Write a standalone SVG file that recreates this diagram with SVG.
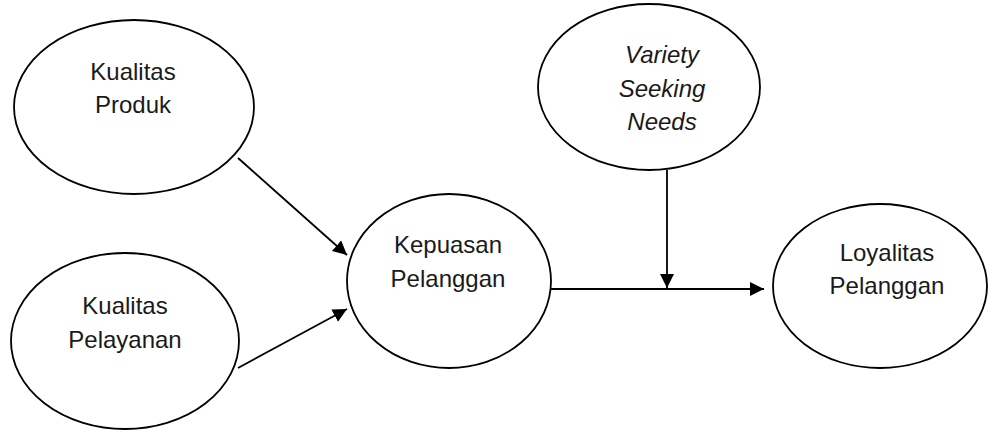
<svg xmlns="http://www.w3.org/2000/svg" width="989" height="430" viewBox="0 0 989 430">
<style>
  .node ellipse { fill: #ffffff; stroke: #000000; stroke-width: 1.8; }
  .node text { font-family: "Liberation Sans", Arial, sans-serif; font-size: 24px; fill: #1a1a1a; text-anchor: middle; }
  .node text.it { font-style: italic; }
  .conn line { stroke: #000000; stroke-width: 1.8; marker-end: url(#arrow); }
</style>
<defs>
  <marker id="arrow" markerUnits="userSpaceOnUse" markerWidth="16" markerHeight="16" refX="14" refY="7" orient="auto">
    <path d="M0,0 L14,7 L0,14 Z" fill="#000000"/>
  </marker>
</defs>
<rect width="989" height="430" fill="#ffffff"/>
<g id="connectors" class="conn">
  <line x1="238" y1="158" x2="347" y2="255"/>
  <line x1="238" y1="368" x2="347" y2="309"/>
  <line x1="551" y1="289" x2="764" y2="289"/>
  <line x1="667" y1="170" x2="667" y2="288"/>
</g>
<g id="kualitas-produk" class="node">
  <ellipse cx="134" cy="107" rx="120" ry="87"/>
  <text x="133" y="80">Kualitas</text>
  <text x="133" y="113">Produk</text>
</g>
<g id="kualitas-pelayanan" class="node">
  <ellipse cx="125" cy="341" rx="114" ry="88"/>
  <text x="125" y="314">Kualitas</text>
  <text x="125" y="348">Pelayanan</text>
</g>
<g id="kepuasan-pelanggan" class="node">
  <ellipse cx="449" cy="281" rx="102" ry="87"/>
  <text x="448" y="253">Kepuasan</text>
  <text x="448" y="287">Pelanggan</text>
</g>
<g id="variety-seeking-needs" class="node">
  <ellipse cx="649" cy="87" rx="111" ry="83"/>
  <text class="it" x="662" y="63">Variety</text>
  <text class="it" x="662" y="97">Seeking</text>
  <text class="it" x="662" y="130">Needs</text>
</g>
<g id="loyalitas-pelanggan" class="node">
  <ellipse cx="880" cy="286" rx="107" ry="82"/>
  <text x="887" y="261">Loyalitas</text>
  <text x="887" y="294">Pelanggan</text>
</g>
</svg>
